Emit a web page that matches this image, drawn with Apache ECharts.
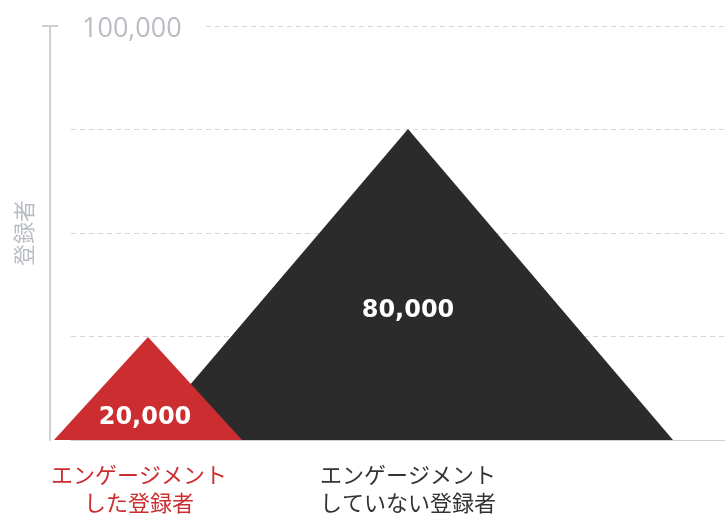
<!DOCTYPE html>
<html>
<head>
<meta charset="utf-8">
<script src="https://cdn.jsdelivr.net/npm/echarts@6/dist/echarts.min.js"></script>
<style>
html,body{margin:0;padding:0;background:#fff;}
#chart{width:725px;height:517px;}
</style>
</head>
<body>
<div id="chart"></div>
<script>
// ---- data ----
const categories = ['エンゲージメント\nした登録者', 'エンゲージメント\nしていない登録者'];
const values = [20000, 80000];
const axisMax = 100000;
const axisInterval = 25000;
const yAxisName = '登録者';

// ---- styles ----
const RED = '#cc2d30';
const DARK = '#2b2b2b';
const triColors = [RED, DARK];
const labelColors = [RED, '#333333'];
const halfWidths = [94, 265];
const labelPosFrac = [0.78, 0.585];

const chart = echarts.init(document.getElementById('chart'), null, {renderer: 'canvas'});

const option = {
  animation: false,
  backgroundColor: '#fff',
  grid: [
    {left: 71, right: 0, top: 26, bottom: 77},
    {left: 18, width: 520, top: 26, bottom: 77}
  ],
  xAxis: [
    {
      gridIndex: 0, type: 'category', data: categories,
      axisLine: {show: true, lineStyle: {color: '#d0d0d0', width: 1}},
      axisTick: {show: false}, axisLabel: {show: false}, splitLine: {show: false}
    },
    {
      gridIndex: 1, type: 'category',
      data: categories.map((c, i) => ({
        value: c,
        textStyle: {color: labelColors[i], padding: i === 0 ? [0, 18, 0, 0] : 0}
      })),
      axisLine: {show: false}, axisTick: {show: false},
      axisLabel: {
        margin: 21, fontSize: 22, lineHeight: 28,
        fontFamily: '"Noto Sans CJK JP", sans-serif'
      }
    }
  ],
  yAxis: [
    {
      gridIndex: 0, type: 'value', min: 0, max: axisMax, interval: axisInterval,
      offset: 21,
      name: yAxisName, nameLocation: 'middle', nameRotate: 90, nameGap: 15,
      nameTextStyle: {color: '#b9bdc3', fontSize: 22, fontFamily: '"Noto Sans CJK JP", sans-serif'},
      axisLine: {show: true, lineStyle: {color: '#cfcfcf', width: 2}, symbol: ['none', 'rect'], symbolSize: [16, 2]},
      axisTick: {show: false},
      splitLine: {show: true, lineStyle: {color: '#d6d6d6', type: [5, 4], width: 1}},
      axisLabel: {
        inside: true, margin: 21,
        formatter: v => v === axisMax ? '{top|' + echarts.format.addCommas(v) + '}' : '',
        rich: {
          top: {
            color: '#b9bdc3', fontSize: 27, fontFamily: '"Open Sans", sans-serif',
            backgroundColor: '#fff', padding: [6, 20, 0, 11]
          }
        }
      }
    },
    {
      gridIndex: 1, type: 'value', min: -9700, max: 109700, show: false,
      splitLine: {show: false}
    }
  ],
  series: [
    {
      type: 'custom',
      xAxisIndex: 1, yAxisIndex: 1,
      data: values.map((v, i) => [i, v]),
      encode: {x: 0, y: 1},
      renderItem: function (params, api) {
        const i = params.dataIndex;
        const top = api.coord([api.value(0), api.value(1)]);
        const cs = params.coordSys;
        const baseY = cs.y + cs.height;
        const hw = halfWidths[i];
        const ty = top[1] + (baseY - top[1]) * labelPosFrac[i];
        return {
          type: 'group',
          children: [
            {
              type: 'polygon',
              z2: i === 0 ? 20 : 10,
              shape: {points: [[top[0] - hw, baseY], [top[0], top[1]], [top[0] + hw, baseY]]},
              style: {fill: triColors[i]}
            },
            {
              type: 'text',
              z2: 30,
              style: {
                text: echarts.format.addCommas(api.value(1)),
                x: top[0] - (i === 0 ? 3 : 0), y: ty,
                fill: '#fff', fontSize: 24, fontWeight: 'bold',
                fontFamily: '"DejaVu Sans", sans-serif',
                align: 'center', verticalAlign: 'middle'
              }
            }
          ]
        };
      }
    }
  ]
};
chart.setOption(option);
</script>
</body>
</html>
